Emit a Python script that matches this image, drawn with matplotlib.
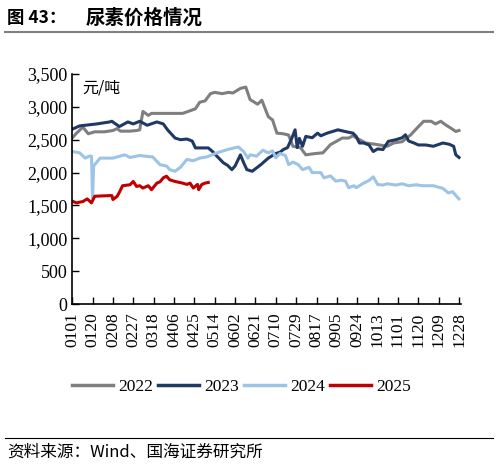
import matplotlib
matplotlib.use("Agg")
import matplotlib.pyplot as plt
from matplotlib.lines import Line2D

plt.rcParams['font.family'] = ['Liberation Serif', 'Noto Sans CJK SC']

# day index (0 = 01-01, non-leap calendar) and price, yuan/ton
d2022 = [0, 4, 10, 15, 21, 30, 38, 42, 45, 54, 60, 63, 66, 71, 74, 87, 103, 110, 115,
         119, 124, 129, 133, 140, 146, 150, 157, 162, 166, 173, 177, 183, 187, 191,
         197, 202, 206, 213, 218, 227, 234, 241, 246, 252, 258, 262, 266, 274, 283,
         294, 300, 308, 316, 322, 328, 335, 339, 344, 349, 353, 358, 361]
v2022 = [2525, 2600, 2690, 2590, 2620, 2620, 2640, 2670, 2630, 2630, 2640, 2650, 2930,
         2870, 2900, 2900, 2900, 2940, 2970, 3070, 3090, 3200, 3220, 3200, 3220, 3210,
         3280, 3300, 3110, 3040, 3100, 2850, 2800, 2600, 2590, 2570, 2400, 2380, 2270,
         2290, 2300, 2425, 2470, 2525, 2525, 2560, 2520, 2450, 2430, 2400, 2450, 2470,
         2575, 2680, 2780, 2780, 2740, 2780, 2720, 2680, 2625, 2640]

d2023 = [0, 7, 23, 35, 37, 44, 52, 57, 63, 70, 79, 85, 89, 96, 101, 107, 112, 115, 127,
         131, 135, 141, 145, 149, 152, 157, 160, 163, 168, 176, 183, 190, 194, 197,
         201, 205, 208, 210, 212, 215, 218, 224, 229, 232, 238, 248, 256, 262, 265,
         268, 272, 277, 281, 285, 290, 295, 302, 308, 311, 314, 319, 323, 330, 337,
         346, 352, 356, 358, 361]
v2023 = [2660, 2710, 2740, 2770, 2780, 2700, 2770, 2740, 2780, 2720, 2770, 2740, 2650,
         2525, 2500, 2510, 2480, 2375, 2375, 2320, 2250, 2150, 2110, 2045, 2100, 2270,
         2150, 2045, 2020, 2120, 2220, 2290, 2310, 2350, 2380, 2525, 2650, 2380, 2520,
         2400, 2550, 2530, 2600, 2560, 2600, 2650, 2620, 2600, 2550, 2450, 2450, 2420,
         2320, 2360, 2350, 2475, 2500, 2530, 2575, 2480, 2450, 2420, 2420, 2400, 2450,
         2430, 2400, 2270, 2230]

d2024 = [0, 7, 12, 16, 18, 19, 20, 21, 26, 38, 49, 54, 63, 73, 75, 82, 88, 91, 96, 101,
         107, 113, 119, 126, 135, 145, 155, 160, 164, 166, 172, 178, 183, 187, 190,
         194, 199, 202, 206, 211, 215, 221, 224, 232, 235, 241, 246, 251, 255, 258,
         263, 265, 272, 277, 281, 285, 290, 294, 302, 308, 314, 321, 327, 337, 346,
         351, 355, 360, 361]
v2024 = [2320, 2300, 2220, 2250, 2250, 1615, 2100, 2120, 2220, 2220, 2270, 2230, 2260,
         2240, 2240, 2120, 2100, 2045, 2020, 2080, 2200, 2180, 2220, 2240, 2300, 2350,
         2390, 2320, 2220, 2270, 2250, 2340, 2300, 2330, 2225, 2290, 2260, 2120, 2160,
         2120, 2045, 2080, 2000, 2000, 1920, 1950, 1870, 1885, 1870, 1770, 1800, 1770,
         1840, 1880, 1935, 1820, 1810, 1830, 1810, 1830, 1800, 1815, 1800, 1800, 1760,
         1690, 1710, 1615, 1600]

d2025 = [0, 4, 10, 14, 18, 21, 35, 37, 38, 42, 44, 47, 54, 57, 60, 63, 66, 71, 74, 79,
         82, 85, 88, 91, 96, 103, 107, 110, 113, 117, 118, 121, 124, 127]
v2025 = [1565, 1540, 1560, 1600, 1540, 1640, 1650, 1650, 1590, 1640, 1700, 1800, 1815,
         1865, 1790, 1800, 1765, 1800, 1740, 1840, 1860, 1920, 1945, 1890, 1865, 1840,
         1820, 1840, 1765, 1820, 1740, 1820, 1840, 1850]

tick_days = list(range(0, 362, 19))
tick_labels = ['0101', '0120', '0208', '0227', '0318', '0406', '0425', '0514', '0602',
               '0621', '0710', '0729', '0817', '0905', '0924', '1013', '1101', '1120',
               '1209', '1228']

colors = {'2022': '#7f7f7f', '2023': '#1f3864', '2024': '#9dc3e6', '2025': '#c00000'}

fig = plt.figure(figsize=(4.98, 4.65), dpi=100)
ax = fig.add_axes([0.145, 0.346, 0.781, 0.495])

ax.plot(d2022, v2022, color=colors['2022'], lw=2.2, label='2022')
ax.plot(d2023, v2023, color=colors['2023'], lw=2.2, label='2023')
ax.plot(d2024, v2024, color=colors['2024'], lw=2.2, label='2024')
ax.plot(d2025, v2025, color=colors['2025'], lw=2.2, label='2025')

ax.set_xlim(0, 363)
ax.set_ylim(0, 3500)
ax.set_yticks(range(0, 3501, 500))
ax.set_yticklabels([f'{v:,}' for v in range(0, 3501, 500)], fontsize=13)
ax.set_xticks(tick_days)
ax.set_xticklabels(tick_labels, rotation=90, fontsize=12.5)
ax.tick_params(direction='in', length=5, width=1, color='black')
ax.tick_params(axis='x', pad=6)
ax.spines['top'].set_visible(False)
ax.spines['right'].set_visible(False)
ax.spines['left'].set_linewidth(1.2)
ax.spines['bottom'].set_linewidth(1.2)

ax.text(0.025, 0.975, '元/吨', transform=ax.transAxes, fontsize=11.5,
        family=['Noto Sans CJK SC'], va='top', ha='left')

handles = [Line2D([], [], color=colors[k], lw=2.5) for k in colors]
fig.legend(handles, list(colors), loc='center', bbox_to_anchor=(0.485, 0.167), ncol=4,
           frameon=False, fontsize=12.5, handlelength=2.35, handletextpad=0.3,
           columnspacing=0.3)

fig.text(0.014, 0.962, '图 43：', fontsize=12.5, fontweight='bold',
         family=['Noto Sans CJK SC', 'DejaVu Sans'], va='center', ha='left')
fig.text(0.171, 0.962, '尿素价格情况', fontsize=14, fontweight='bold',
         family=['Noto Sans CJK SC', 'DejaVu Sans'], va='center', ha='left')
fig.add_artist(Line2D([0.01, 0.99], [0.931, 0.931], color='#808080', lw=1.5))
fig.add_artist(Line2D([0.01, 0.99], [0.058, 0.058], color='black', lw=0.8))
fig.text(0.014, 0.028, '资料来源：Wind、国海证券研究所', fontsize=12,
         family=['Noto Sans CJK SC', 'DejaVu Sans'], va='center', ha='left')

fig.savefig('out.png', dpi=100)
